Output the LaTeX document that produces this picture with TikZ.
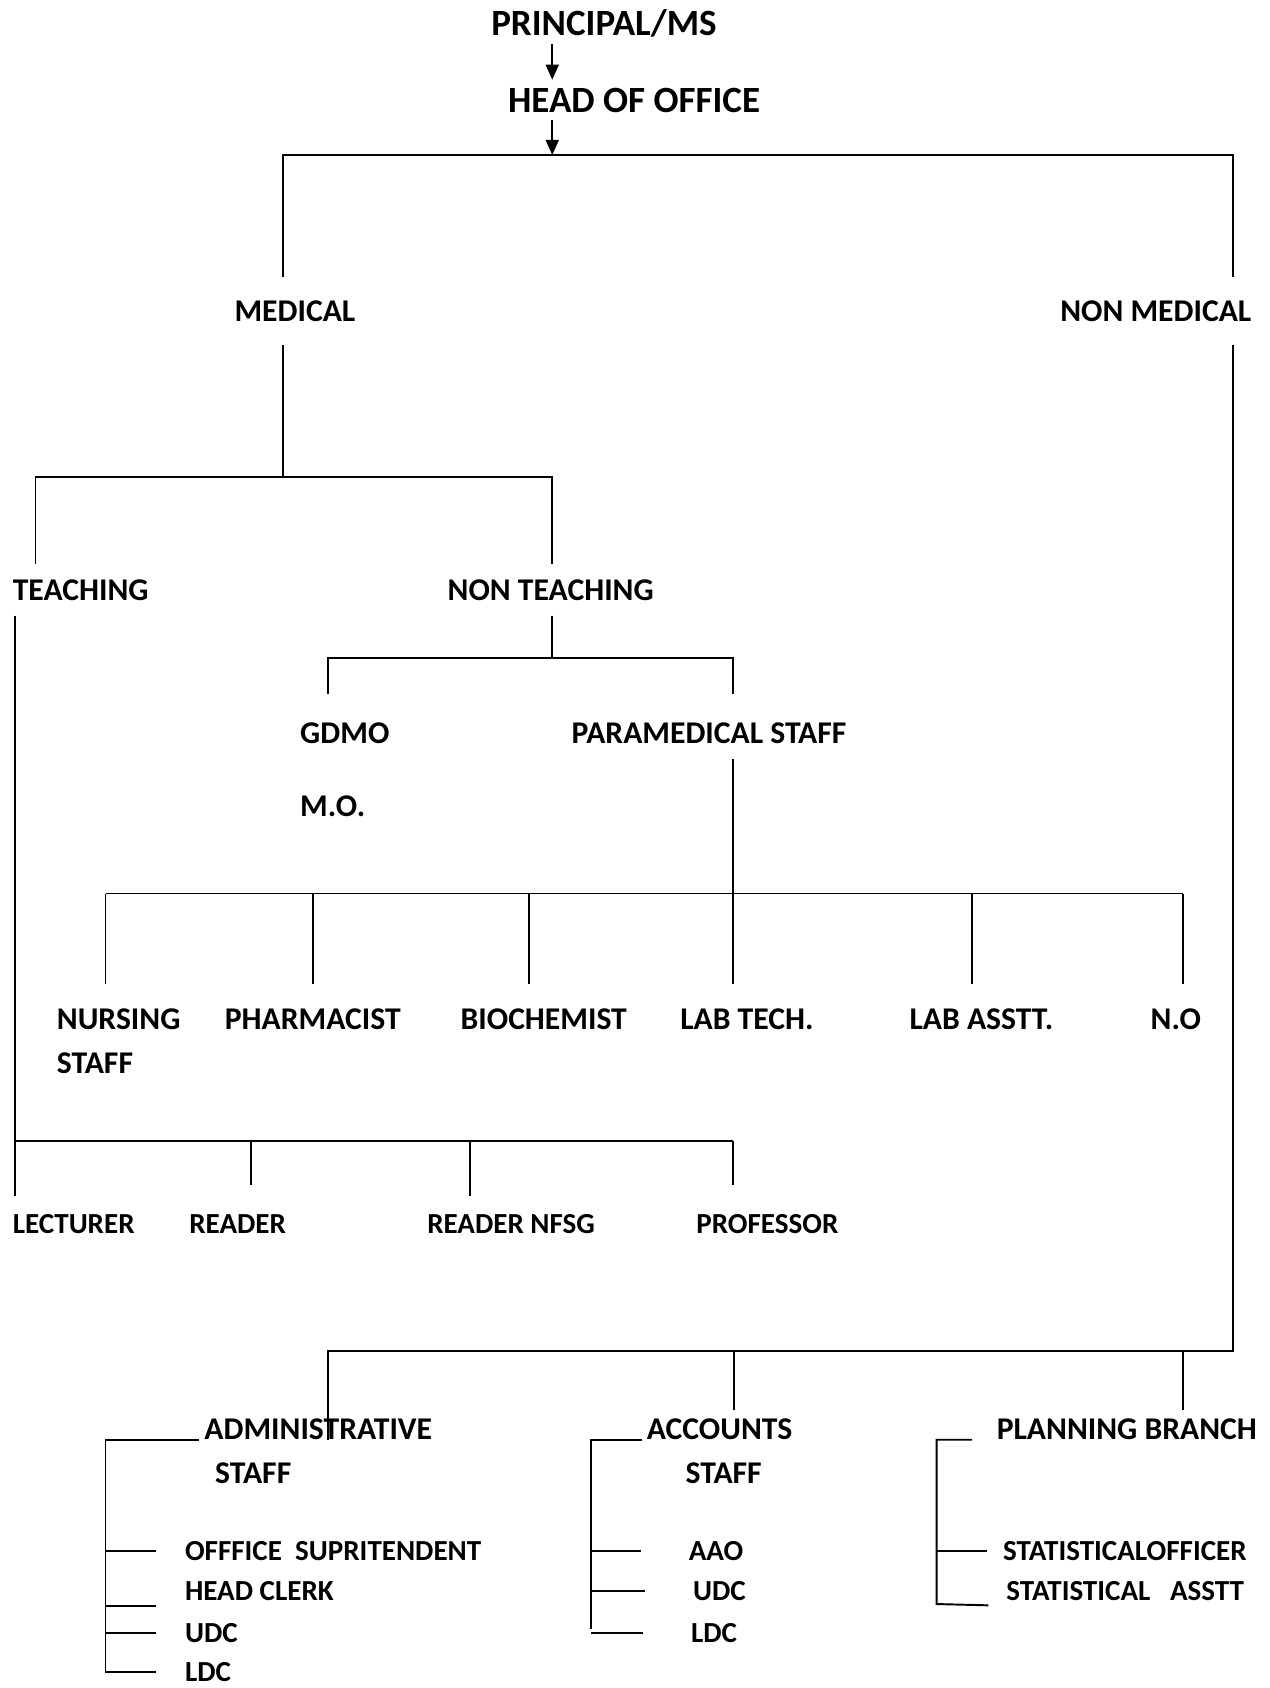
\documentclass[tikz,border=0pt]{standalone}
\usepackage{fontspec}
\setmainfont{Carlito}
\usetikzlibrary{arrows.meta}
\tikzset{
	headbox/.style={font=\fontsize{17.2}{20}\selectfont\bfseries, inner xsep=0pt, inner ysep=3.45pt, text height=11.1pt, text depth=0pt},
	lbl/.style={font=\fontsize{14.7}{17}\selectfont\bfseries, anchor=west, inner xsep=2pt, inner ysep=6.8pt, text height=9.4pt, text depth=0pt},
	mainbox/.style={lbl, inner ysep=10.8pt},
	leaf/.style={lbl, inner ysep=11.3pt},
	unitbox/.style={lbl, inner ysep=3.8pt},
	item/.style={font=\fontsize{13.5}{16}\selectfont\bfseries, anchor=west, inner xsep=2pt, inner ysep=2pt, text height=8.6pt, text depth=0pt},
	rank/.style={item, inner ysep=8.2pt},
	stub/.style={shorten >=#1},
	arr/.style={-{Triangle[length=7pt,width=6pt]}},
}
\begin{document}
\begin{tikzpicture}[x=0.5pt, y=-0.5pt, line width=0.9pt]
	\useasboundingbox (0,0) rectangle (1179,1568);
	\node (principal) [headbox] at (561,22) {PRINCIPAL/MS};
	\node (head) [headbox] at (589,93) {HEAD OF OFFICE};
	\node (medical) [mainbox] at (213,289) {MEDICAL};
	\node (nonmedical) [mainbox] at (980,289) {NON MEDICAL};
	\node (teaching) [lbl] at (7,548) {TEACHING};
	\node (nonteaching) [lbl] at (411,548) {NON TEACHING};
	\node (gdmo) [lbl] at (274,681) {GDMO};
	\node (mo) [lbl] at (274,749) {M.O.};
	\node (para) [lbl] at (526,681) {PARAMEDICAL STAFF};
	\node (nursing) [leaf] at (48,947) {NURSING};
	\node (nursing2) [leaf] at (48,988) {STAFF};
	\node (pharmacist) [leaf] at (204,947) {PHARMACIST};
	\node (biochemist) [leaf] at (423,947) {BIOCHEMIST};
	\node (labtech) [leaf] at (627,947) {LAB TECH.};
	\node (labasstt) [leaf] at (840,947) {LAB ASSTT.};
	\node (no) [leaf] at (1064,947) {N.O};
	\node (lecturer) [rank] at (7,1137) {LECTURER};
	\node (reader) [rank] at (171,1137) {READER};
	\node (nfsg) [rank] at (392,1137) {READER NFSG};
	\node (professor) [rank] at (642,1137) {PROFESSOR};
	\node (admin) [unitbox] at (185,1328) {ADMINISTRATIVE};
	\node (admin2) [unitbox] at (195,1369) {STAFF};
	\node (accounts) [unitbox] at (596,1328) {ACCOUNTS};
	\node (accounts2) [unitbox] at (632,1369) {STAFF};
	\node (plan) [unitbox] at (921,1328) {PLANNING BRANCH};
	\node (os) [item] at (167,1441) {OFFFICE~~SUPRITENDENT};
	\node (hc) [item] at (167,1478) {HEAD CLERK};
	\node (udc1) [item] at (167,1517) {UDC};
	\node (ldc1) [item] at (167,1553) {LDC};
	\node (aao) [item] at (635,1441) {AAO};
	\node (udc2) [item] at (639,1478) {UDC};
	\node (ldc2) [item] at (637,1517) {LDC};
	\node (so) [item] at (927,1441) {STATISTICALOFFICER};
	\node (sa) [item] at (930,1478) {STATISTICAL~~~ASSTT};
	\coordinate (hub) at (513,144);
	\coordinate (med-top) at (263,144);
	\coordinate (nonmed-top) at (1145,144);
	\coordinate (med-bar) at (263,443);
	\coordinate (tch-top) at (33,443);
	\coordinate (ntch-top) at (513,443);
	\coordinate (ntch-bar) at (513,611);
	\coordinate (gdmo-top) at (305,611);
	\coordinate (para-top) at (681,611);
	\coordinate (pm-mid) at (681,830);
	\coordinate (pm1) at (98,830);
	\coordinate (pm2) at (291,830);
	\coordinate (pm3) at (491,830);
	\coordinate (pm4) at (681,830);
	\coordinate (pm5) at (903,830);
	\coordinate (pm6) at (1099,830);
	\coordinate (tch-bar) at (14,1060);
	\coordinate (rd-top) at (233,1060);
	\coordinate (nfsg-top) at (437,1060);
	\coordinate (prof-top) at (681,1060);
	\coordinate (adm-top) at (305,1255);
	\coordinate (acc-top) at (682,1255);
	\coordinate (pl-top) at (1099,1255);
	\coordinate (adm-spine) at (98,1553);
	\coordinate (acc-spine) at (549,1513);
	\coordinate (pl-spine) at (870,1490);
	\draw [arr] (principal.south -| hub) -- (head.north -| hub);
	\draw [arr] (head.south -| hub) -- (hub);
	\draw (medical.north -| med-top) |- (nonmed-top) -- (nonmedical.north -| nonmed-top);
	\draw (medical.south -| med-top) -- (med-bar);
	\draw (teaching.north -| tch-top) |- (ntch-top) -- (nonteaching.north -| ntch-top);
	\draw (nonteaching.south -| ntch-top) -- (ntch-bar);
	\draw [shorten <=6pt, shorten >=6pt] (gdmo.north -| gdmo-top) |- (para-top) -- (para.north -| para-top);
	\draw (para.south -| para-top) -- (pm-mid);
	\draw (pm1) -- (pm6);
	\foreach \c/\n in {pm1/nursing, pm2/pharmacist, pm3/biochemist, pm4/labtech, pm5/labasstt, pm6/no}
		\draw (\c) -- (\n.north -| \c);
	\draw (teaching.south -| tch-bar) -- (lecturer.north -| tch-bar);
	\draw (tch-bar) -- (prof-top);
	\draw [stub=5pt] (rd-top) -- (reader.north -| rd-top);
	\draw (nfsg-top) -- (nfsg.north -| nfsg-top);
	\draw [stub=5pt] (prof-top) -- (professor.north -| prof-top);
	\draw (nonmedical.south -| nonmed-top) |- (adm-top) -- (admin.base -| adm-top);
	\draw (acc-top) -- (accounts.north -| acc-top);
	\draw (pl-top) -- (plan.north -| pl-top);
	\draw [stub=11pt] (admin.base west) -| (adm-spine) -- (ldc1.west);
	\draw [stub=11pt] (os.west -| adm-spine) -- (os.west);
	\draw [stub=11pt] (hc.south west -| adm-spine) -- (hc.south west);
	\draw [stub=11pt] (udc1.west -| adm-spine) -- (udc1.west);
	\draw (accounts.base west) -| (acc-spine);
	\draw [stub=20pt] (aao.west -| acc-spine) -- (aao.west);
	\draw [stub=20pt] (udc2.west -| acc-spine) -- (udc2.west);
	\draw [stub=20pt] (ldc2.west -| acc-spine) -- (ldc2.west);
	\draw [shorten <=9pt, stub=6pt] (plan.base west) -| (pl-spine) -- (sa.south west);
	\draw [stub=5pt] (so.west -| pl-spine) -- (so.west);
\end{tikzpicture}
\end{document}
